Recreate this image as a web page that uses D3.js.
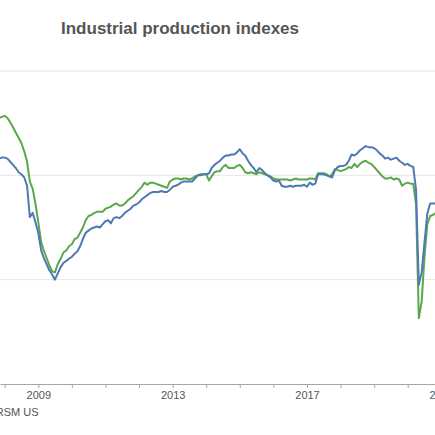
<!DOCTYPE html>
<html>
<head>
<meta charset="utf-8">
<script src="https://cdn.jsdelivr.net/npm/d3@7"></script>
<style>
  html, body { margin: 0; padding: 0; background: #fff; }
  svg { display: block; font-family: "Liberation Sans", Arial, sans-serif; }
</style>
</head>
<body>
<div id="chart"></div>
<script>
// monthly values, first month is Oct 2007, plotted at month end
const firstMonth = "2007-10";

// blue series
const totalIndex = [
  101.6, 101.7, 101.7,
  101.6, 101.3, 101.0, 100.7, 100.3, 100.1, 99.8, 99.0, 96.0, 96.4, 95.5, 94.5,
  92.8, 92.1, 91.5, 90.9, 90.5, 90.0, 90.6, 91.2, 91.6, 91.8, 92.0, 92.2,
  92.5, 92.7, 93.2, 93.9, 94.5, 94.7, 94.9, 95.0, 95.1, 95.0, 95.3, 95.6,
  95.7, 95.4, 95.9, 96.0, 95.9, 96.1, 96.4, 96.6, 96.8, 97.1, 97.2, 97.4,
  97.7, 97.9, 98.1, 98.3, 98.4, 98.4, 98.4, 98.5, 98.4, 98.4, 98.6, 98.9,
  99.0, 99.1, 99.3, 99.4, 99.4, 99.4, 99.4, 99.7, 100.0, 100.0, 100.1, 100.1,
  100.2, 100.7, 101.0, 101.2, 101.4, 101.7, 101.9, 101.9, 102.0, 102.0, 102.2, 102.5,
  102.1, 101.9, 101.4, 101.0, 100.7, 100.3, 100.7, 100.5, 100.2, 100.0, 99.8, 99.5,
  99.4, 99.5, 99.0, 98.9, 98.9, 99.0, 98.9, 99.0, 99.0, 99.0, 99.1, 98.9,
  99.3, 99.1, 99.2, 100.1, 100.1, 100.1, 100.0, 99.9, 99.8, 100.5, 100.8, 100.9,
  100.9, 101.0, 101.4, 102.0, 101.9, 102.1, 102.4, 102.6, 102.8, 102.7, 102.7, 102.6,
  102.4, 102.1, 101.9, 101.6, 101.7, 101.5, 101.6, 101.7, 101.4, 101.2, 101.0, 101.1,
  100.9, 100.8, 98.6, 89.5, 90.7, 93.5, 96.3, 97.3, 97.3, 97.3
];

// green series
const manufacturingIndex = [
  105.5, 105.6, 105.7,
  105.5, 105.1, 104.6, 104.1, 103.6, 103.1, 102.3, 101.3, 99.4, 98.7, 97.3, 95.5,
  93.6, 92.8, 92.1, 91.4, 90.8, 90.7, 91.5, 92.0, 92.6, 92.8, 93.2, 93.4,
  93.9, 94.0, 94.5, 95.0, 95.7, 96.1, 96.2, 96.4, 96.5, 96.5, 96.5, 96.8,
  96.9, 97.0, 97.2, 97.3, 97.1, 97.1, 97.3, 97.6, 97.8, 98.0, 98.3, 98.6,
  98.9, 99.3, 99.1, 99.3, 99.3, 99.2, 99.1, 99.0, 98.9, 98.8, 99.4, 99.6,
  99.7, 99.7, 99.6, 99.7, 99.7, 99.6, 99.7, 99.9, 100.0, 100.1, 100.1, 100.1,
  99.5, 99.9, 100.3, 100.4, 100.4, 100.8, 101.0, 100.7, 100.7, 100.7, 100.9, 101.0,
  100.7, 100.3, 100.2, 100.3, 100.2, 100.1, 100.3, 100.2, 100.1, 100.0, 99.9, 99.7,
  99.6, 99.6, 99.6, 99.6, 99.6, 99.5, 99.6, 99.7, 99.6, 99.6, 99.6, 99.6,
  99.7, 99.7, 99.6, 100.2, 100.2, 100.2, 100.1, 99.9, 100.1, 100.6, 100.5, 100.4,
  100.5, 100.6, 100.8, 100.7, 101.1, 100.8, 101.1, 101.3, 101.4, 101.2, 101.1, 100.8,
  100.5, 100.2, 99.9, 99.7, 99.7, 99.8, 99.6, 99.7, 99.6, 99.0, 99.2, 99.3,
  99.2, 99.2, 97.2, 86.3, 87.9, 92.1, 95.3, 96.1, 96.2, 96.4
];

const gridValues = [90, 100, 110];
const labelYears = [2009, 2013, 2017, 2021];

const width = 435;
const height = 435;

const svg = d3.select('#chart').append('svg')
  .attr('width', width)
  .attr('height', height);

const start = d3.timeParse('%Y-%m')(firstMonth);
const monthEnd = i => d3.timeMonth.offset(start, i + 1);

// 2009 and 2017 sit at these pixels; widen the domain so the
// axis also gets the ticks that fall outside that span
const x = d3.scaleTime()
  .domain([new Date(2009, 0, 1), new Date(2017, 0, 1)])
  .range([38.3, 307]);
const xRight = width + 12;
x.domain([x.invert(0), x.invert(xRight)]).range([0, xRight]);

const y = d3.scaleLinear()
  .domain([80, 110])
  .range([384, 71]);

// gridlines
svg.append('g')
  .selectAll('line')
  .data(gridValues)
  .join('line')
  .attr('x1', 0)
  .attr('x2', width)
  .attr('y1', d => y(d))
  .attr('y2', d => y(d))
  .attr('stroke', '#e6e6e6')
  .attr('stroke-width', 1);

// x axis
const xAxis = d3.axisBottom(x)
  .ticks(d3.timeYear.every(1))
  .tickSize(4)
  .tickSizeOuter(0)
  .tickPadding(3)
  .tickFormat(d => labelYears.includes(d.getFullYear()) ? d3.timeFormat('%Y')(d) : '');

const ax = svg.append('g')
  .attr('transform', `translate(0,${y(80)})`)
  .call(xAxis);

ax.select('.domain').attr('stroke', '#a6a6a6');
ax.selectAll('.tick line').attr('stroke', '#a6a6a6');
ax.selectAll('.tick text')
  .attr('fill', '#555555')
  .style('font-size', '11px')
  .style('font-family', '"Liberation Sans", Arial, sans-serif');

// lines
const line = d3.line()
  .x((d, i) => x(monthEnd(i)))
  .y(d => y(d));

svg.append('path')
  .datum(manufacturingIndex)
  .attr('fill', 'none')
  .attr('stroke', '#5ba84c')
  .attr('stroke-width', 2)
  .attr('stroke-linejoin', 'round')
  .attr('d', line);

svg.append('path')
  .datum(totalIndex)
  .attr('fill', 'none')
  .attr('stroke', '#4f79b3')
  .attr('stroke-width', 2)
  .attr('stroke-linejoin', 'round')
  .attr('d', line);

// title
svg.append('text')
  .attr('x', 61)
  .attr('y', 34)
  .attr('fill', '#555555')
  .style('font-size', '17px')
  .style('font-weight', 'bold')
  .text('Industrial production indexes');

// source (cut at the left edge, as in the original crop)
svg.append('text')
  .attr('x', 38.5)
  .attr('y', 416)
  .attr('text-anchor', 'end')
  .attr('fill', '#555555')
  .style('font-size', '11px')
  .text('Source: RSM US');
</script>
</body>
</html>
